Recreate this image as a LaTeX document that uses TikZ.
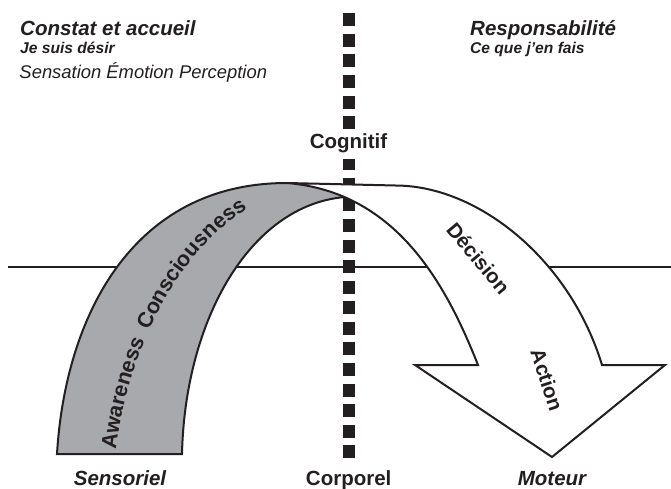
\documentclass[tikz,border=0pt]{standalone}
\usepackage{fontspec}
\setmainfont{Liberation Sans}
\usetikzlibrary{decorations.text}
\definecolor{ink}{HTML}{231F20}
\definecolor{band}{RGB}{167,169,172}
\begin{document}
\begin{tikzpicture}[x=1pt,y=-1pt,
  edge/.style={draw=ink, line width=2},
  big/.style={font=\fontsize{20.5}{24}\selectfont\bfseries, text=ink, inner sep=0},
  bigit/.style={font=\fontsize{20.5}{24}\selectfont\bfseries\itshape, text=ink, inner sep=0},
  subit/.style={font=\fontsize{15.6}{18}\selectfont\bfseries\itshape, text=ink, inner sep=0},
  regit/.style={font=\fontsize{18.4}{22}\selectfont\itshape, text=ink, inner sep=0}]
\useasboundingbox (0,0) rectangle (671,488);
\fill[white] (0,0) rectangle (671,488);
% horizontal line
\coordinate (hL) at (8,267);
\coordinate (hR) at (671,267);
\draw[ink, line width=1.6] (hL) -- (hR);
% gray band
\begin{scope}
\clip (0,170) -- (287,170) -- (287,183) .. controls (395,192) and (445,281.5) .. (478,365) -- (478,488) -- (0,488) -- cycle;
\fill[band] (57,454) .. controls (65,320) and (130,183) .. (287,183) -- (360,178) -- (360,196) -- (345,197) .. controls (250,205) and (185,320) .. (182,454) -- cycle;
\end{scope}
\draw[edge] (287,183) .. controls (130,183) and (65,320) .. (57,454) -- (182,454) .. controls (185,320) and (250,205) .. (345,197);
% dashed vertical line
\coordinate (vT) at (349,13.3);
\coordinate (vB) at (349,458.3);
\draw[ink, line width=12, dash pattern=on 13 off 7.57] (vT) -- (vB);
\fill[white] (340,128.5) rectangle (358,159);
% white arrow
\draw[edge, fill=white] (287,183) -- (400,185.6) .. controls (480,188) and (570,260) .. (602,365) -- (665,365) -- (552,457) -- (415,365) -- (478,365) .. controls (445,281.5) and (395,192) .. (287,183) -- cycle;
% curved text
\path[decorate, decoration={text along path, text align=left,
  text={|\fontsize{21.5}{24}\selectfont\bfseries\color{ink}|Awareness}}]
  (116,450) .. controls (130,330) and (198,222) .. (280,193);
\path[decorate, decoration={text along path, text align={left, left indent=124pt},
  text={|\fontsize{21.5}{24}\selectfont\bfseries\color{ink}|Consciousness}}]
  (116,450) .. controls (130,330) and (198,222) .. (280,193);
\node[big, rotate=-50] (dec) at (478.5,258.5) {Décision};
\node[big, rotate=-72] (act) at (547,380) {Action};
% labels
\node[bigit, anchor=base west] (constat) at (20,35) {Constat et accueil};
\node[subit, anchor=base west] (jesuis) at (20,53) {Je suis désir};
\node[regit, anchor=base west] (sens) at (19.3,78.3) {Sensation Émotion Perception};
\node[bigit, anchor=base west] (resp) at (470,35) {Responsabilité};
\node[subit, anchor=base west] (cequ) at (470,53) {Ce que j'en fais};
\node[big, anchor=base] (cog) at (348.5,148) {Cognitif};
\node[bigit, anchor=base] (sensoriel) at (120,485) {Sensoriel};
\node[big, anchor=base] (corp) at (348.7,485) {Corporel};
\node[bigit, anchor=base] (mot) at (552,485) {Moteur};
\end{tikzpicture}
\end{document}
